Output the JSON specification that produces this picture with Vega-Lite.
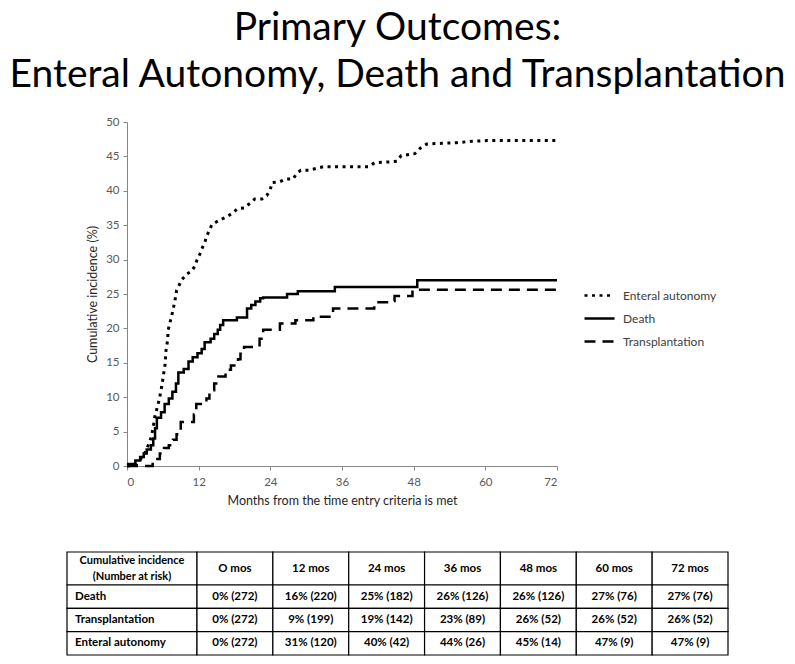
{
  "$schema": "https://vega.github.io/schema/vega-lite/v6.json",
  "width": 430,
  "height": 344,
  "autosize": {"type": "none"},
  "padding": {"left": 127, "top": 122, "right": 238, "bottom": 198},
  "background": "white",
  "config": {
    "font": "Lato",
    "view": {"stroke": null},
    "axis": {
      "grid": false,
      "domainColor": "#868686",
      "tickColor": "#868686",
      "tickSize": 4,
      "labelColor": "#595959",
      "labelFontSize": 11.5,
      "titleColor": "#262626",
      "titleFontSize": 12.5,
      "titleFontWeight": "normal"
    }
  },
  "title": {
    "text": ["Primary Outcomes:", "Enteral Autonomy, Death and Transplantation"],
    "fontSize": 39,
    "lineHeight": 47,
    "fontWeight": "normal",
    "color": "black",
    "anchor": "middle",
    "frame": "bounds",
    "offset": 21
  },
  "datasets": {
    "curves": [
      {"series": "Death", "t": 0, "v": 0},
      {"series": "Death", "t": 0.2, "v": 0.3},
      {"series": "Death", "t": 1.4, "v": 0.8},
      {"series": "Death", "t": 2.2, "v": 1.3},
      {"series": "Death", "t": 2.8, "v": 1.8},
      {"series": "Death", "t": 3.3, "v": 2.4},
      {"series": "Death", "t": 4.0, "v": 3.0},
      {"series": "Death", "t": 4.4, "v": 4.0},
      {"series": "Death", "t": 4.7, "v": 5.5},
      {"series": "Death", "t": 5.0, "v": 7.0},
      {"series": "Death", "t": 5.7, "v": 7.8},
      {"series": "Death", "t": 6.3, "v": 9.0},
      {"series": "Death", "t": 7.0, "v": 9.8},
      {"series": "Death", "t": 7.6, "v": 10.8},
      {"series": "Death", "t": 8.2, "v": 12.0},
      {"series": "Death", "t": 8.6, "v": 13.6},
      {"series": "Death", "t": 9.5, "v": 14.1},
      {"series": "Death", "t": 10.3, "v": 15.2},
      {"series": "Death", "t": 11.0, "v": 15.8},
      {"series": "Death", "t": 11.8, "v": 16.4},
      {"series": "Death", "t": 12.5, "v": 17.0},
      {"series": "Death", "t": 13.0, "v": 18.0},
      {"series": "Death", "t": 14.0, "v": 18.5},
      {"series": "Death", "t": 14.6, "v": 19.2},
      {"series": "Death", "t": 15.2, "v": 19.8},
      {"series": "Death", "t": 15.6, "v": 20.5},
      {"series": "Death", "t": 16.1, "v": 21.2},
      {"series": "Death", "t": 18.4, "v": 21.6},
      {"series": "Death", "t": 20.1, "v": 22.9},
      {"series": "Death", "t": 20.8, "v": 23.4},
      {"series": "Death", "t": 21.5, "v": 23.9},
      {"series": "Death", "t": 22.3, "v": 24.4},
      {"series": "Death", "t": 22.8, "v": 24.5},
      {"series": "Death", "t": 26.8, "v": 25.0},
      {"series": "Death", "t": 28.6, "v": 25.4},
      {"series": "Death", "t": 34.8, "v": 26.0},
      {"series": "Death", "t": 48.6, "v": 27.0},
      {"series": "Death", "t": 72, "v": 27.0},
      {"series": "Transplantation", "t": 0, "v": 0},
      {"series": "Transplantation", "t": 4.3, "v": 0.5},
      {"series": "Transplantation", "t": 4.8, "v": 1.0},
      {"series": "Transplantation", "t": 5.5, "v": 1.8},
      {"series": "Transplantation", "t": 6.2, "v": 2.6},
      {"series": "Transplantation", "t": 7.0, "v": 3.0},
      {"series": "Transplantation", "t": 7.7, "v": 3.8},
      {"series": "Transplantation", "t": 8.3, "v": 4.6},
      {"series": "Transplantation", "t": 9.0, "v": 6.4},
      {"series": "Transplantation", "t": 11.2, "v": 7.5},
      {"series": "Transplantation", "t": 11.6, "v": 9.0},
      {"series": "Transplantation", "t": 13.3, "v": 9.8},
      {"series": "Transplantation", "t": 13.8, "v": 11.0},
      {"series": "Transplantation", "t": 14.6, "v": 12.0},
      {"series": "Transplantation", "t": 15.3, "v": 13.0},
      {"series": "Transplantation", "t": 16.5, "v": 14.0},
      {"series": "Transplantation", "t": 17.4, "v": 14.6},
      {"series": "Transplantation", "t": 18.6, "v": 15.5},
      {"series": "Transplantation", "t": 19.0, "v": 16.3},
      {"series": "Transplantation", "t": 19.6, "v": 17.3},
      {"series": "Transplantation", "t": 22.2, "v": 18.5},
      {"series": "Transplantation", "t": 22.8, "v": 19.8},
      {"series": "Transplantation", "t": 25.6, "v": 20.7},
      {"series": "Transplantation", "t": 28.2, "v": 21.2},
      {"series": "Transplantation", "t": 31.2, "v": 21.7},
      {"series": "Transplantation", "t": 34.5, "v": 22.9},
      {"series": "Transplantation", "t": 41.4, "v": 23.8},
      {"series": "Transplantation", "t": 44.2, "v": 24.0},
      {"series": "Transplantation", "t": 44.8, "v": 24.7},
      {"series": "Transplantation", "t": 47.8, "v": 25.6},
      {"series": "Transplantation", "t": 72, "v": 25.6},
      {"series": "Enteral autonomy", "t": 0, "v": 0},
      {"series": "Enteral autonomy", "t": 1.5, "v": 0.2},
      {"series": "Enteral autonomy", "t": 2.2, "v": 0.9},
      {"series": "Enteral autonomy", "t": 3.0, "v": 1.9},
      {"series": "Enteral autonomy", "t": 3.6, "v": 3.1},
      {"series": "Enteral autonomy", "t": 4.1, "v": 4.3},
      {"series": "Enteral autonomy", "t": 4.4, "v": 5.7},
      {"series": "Enteral autonomy", "t": 4.7, "v": 7.4},
      {"series": "Enteral autonomy", "t": 5.1, "v": 8.6},
      {"series": "Enteral autonomy", "t": 5.5, "v": 10.1},
      {"series": "Enteral autonomy", "t": 5.8, "v": 11.5},
      {"series": "Enteral autonomy", "t": 6.1, "v": 13.2},
      {"series": "Enteral autonomy", "t": 6.4, "v": 14.9},
      {"series": "Enteral autonomy", "t": 6.5, "v": 16.6},
      {"series": "Enteral autonomy", "t": 6.8, "v": 18.3},
      {"series": "Enteral autonomy", "t": 6.9, "v": 19.8},
      {"series": "Enteral autonomy", "t": 7.5, "v": 21.9},
      {"series": "Enteral autonomy", "t": 8.0, "v": 23.9},
      {"series": "Enteral autonomy", "t": 8.3, "v": 25.5},
      {"series": "Enteral autonomy", "t": 9.2, "v": 27.1},
      {"series": "Enteral autonomy", "t": 10.0, "v": 27.9},
      {"series": "Enteral autonomy", "t": 10.8, "v": 28.3},
      {"series": "Enteral autonomy", "t": 11.4, "v": 29.1},
      {"series": "Enteral autonomy", "t": 11.7, "v": 29.9},
      {"series": "Enteral autonomy", "t": 12.2, "v": 30.8},
      {"series": "Enteral autonomy", "t": 12.7, "v": 31.9},
      {"series": "Enteral autonomy", "t": 13.1, "v": 32.7},
      {"series": "Enteral autonomy", "t": 13.3, "v": 33.4},
      {"series": "Enteral autonomy", "t": 13.8, "v": 34.2},
      {"series": "Enteral autonomy", "t": 14.2, "v": 35.1},
      {"series": "Enteral autonomy", "t": 15.0, "v": 35.5},
      {"series": "Enteral autonomy", "t": 15.9, "v": 35.9},
      {"series": "Enteral autonomy", "t": 16.9, "v": 36.3},
      {"series": "Enteral autonomy", "t": 17.7, "v": 36.8},
      {"series": "Enteral autonomy", "t": 18.5, "v": 37.4},
      {"series": "Enteral autonomy", "t": 19.6, "v": 37.5},
      {"series": "Enteral autonomy", "t": 20.6, "v": 38.2},
      {"series": "Enteral autonomy", "t": 21.4, "v": 38.8},
      {"series": "Enteral autonomy", "t": 22.6, "v": 38.8},
      {"series": "Enteral autonomy", "t": 23.4, "v": 39.3},
      {"series": "Enteral autonomy", "t": 24.0, "v": 40.2},
      {"series": "Enteral autonomy", "t": 24.3, "v": 41.2},
      {"series": "Enteral autonomy", "t": 25.5, "v": 41.3},
      {"series": "Enteral autonomy", "t": 26.6, "v": 41.7},
      {"series": "Enteral autonomy", "t": 27.8, "v": 41.7},
      {"series": "Enteral autonomy", "t": 28.4, "v": 42.5},
      {"series": "Enteral autonomy", "t": 29.1, "v": 43.0},
      {"series": "Enteral autonomy", "t": 30.4, "v": 43.0},
      {"series": "Enteral autonomy", "t": 32.9, "v": 43.5},
      {"series": "Enteral autonomy", "t": 40.4, "v": 43.5},
      {"series": "Enteral autonomy", "t": 41.5, "v": 44.1},
      {"series": "Enteral autonomy", "t": 44.0, "v": 44.2},
      {"series": "Enteral autonomy", "t": 45.2, "v": 44.3},
      {"series": "Enteral autonomy", "t": 45.9, "v": 45.1},
      {"series": "Enteral autonomy", "t": 48.2, "v": 45.4},
      {"series": "Enteral autonomy", "t": 49.1, "v": 46.2},
      {"series": "Enteral autonomy", "t": 50.2, "v": 46.8},
      {"series": "Enteral autonomy", "t": 52.7, "v": 46.9},
      {"series": "Enteral autonomy", "t": 55.2, "v": 47.0},
      {"series": "Enteral autonomy", "t": 57.8, "v": 47.2},
      {"series": "Enteral autonomy", "t": 60.3, "v": 47.3},
      {"series": "Enteral autonomy", "t": 72, "v": 47.3}
    ],
    "headerLabel": [
      {"r": "header", "c": "label", "txt": ["Cumulative incidence", "(Number at risk)"]}
    ],
    "headerCols": [
      {"r": "header", "c": "O mos"},
      {"r": "header", "c": "12 mos"},
      {"r": "header", "c": "24 mos"},
      {"r": "header", "c": "36 mos"},
      {"r": "header", "c": "48 mos"},
      {"r": "header", "c": "60 mos"},
      {"r": "header", "c": "72 mos"}
    ],
    "rowLabels": [
      {"r": "Death", "c": "label"},
      {"r": "Transplantation", "c": "label"},
      {"r": "Enteral autonomy", "c": "label"}
    ],
    "cells": [
      {"r": "Death", "c": "O mos", "txt": "0% (272)"},
      {"r": "Death", "c": "12 mos", "txt": "16% (220)"},
      {"r": "Death", "c": "24 mos", "txt": "25% (182)"},
      {"r": "Death", "c": "36 mos", "txt": "26% (126)"},
      {"r": "Death", "c": "48 mos", "txt": "26% (126)"},
      {"r": "Death", "c": "60 mos", "txt": "27% (76)"},
      {"r": "Death", "c": "72 mos", "txt": "27% (76)"},
      {"r": "Transplantation", "c": "O mos", "txt": "0% (272)"},
      {"r": "Transplantation", "c": "12 mos", "txt": "9% (199)"},
      {"r": "Transplantation", "c": "24 mos", "txt": "19% (142)"},
      {"r": "Transplantation", "c": "36 mos", "txt": "23% (89)"},
      {"r": "Transplantation", "c": "48 mos", "txt": "26% (52)"},
      {"r": "Transplantation", "c": "60 mos", "txt": "26% (52)"},
      {"r": "Transplantation", "c": "72 mos", "txt": "26% (52)"},
      {"r": "Enteral autonomy", "c": "O mos", "txt": "0% (272)"},
      {"r": "Enteral autonomy", "c": "12 mos", "txt": "31% (120)"},
      {"r": "Enteral autonomy", "c": "24 mos", "txt": "40% (42)"},
      {"r": "Enteral autonomy", "c": "36 mos", "txt": "44% (26)"},
      {"r": "Enteral autonomy", "c": "48 mos", "txt": "45% (14)"},
      {"r": "Enteral autonomy", "c": "60 mos", "txt": "47% (9)"},
      {"r": "Enteral autonomy", "c": "72 mos", "txt": "47% (9)"}
    ]
  },
  "layer": [
    {
      "data": {"name": "curves"},
      "encoding": {
        "x": {
          "field": "t",
          "type": "quantitative",
          "scale": {"domain": [0, 72], "nice": false},
          "axis": {
            "values": [0, 12, 24, 36, 48, 60, 72],
            "title": "Months from the time entry criteria is met",
            "labelPadding": 6,
            "titlePadding": 7
          }
        },
        "y": {
          "field": "v",
          "type": "quantitative",
          "scale": {"domain": [0, 50], "nice": false},
          "axis": {
            "values": [0, 5, 10, 15, 20, 25, 30, 35, 40, 45, 50],
            "title": "Cumulative incidence (%)",
            "labelPadding": 4,
            "titlePadding": 6
          }
        },
        "strokeDash": {
          "field": "series",
          "type": "nominal",
          "scale": {
            "domain": ["Enteral autonomy", "Death", "Transplantation"],
            "range": [[3, 4.5], [1, 0], [11, 7]]
          },
          "legend": {
            "title": null,
            "orient": "none",
            "legendX": 456,
            "legendY": 157,
            "padding": 0,
            "symbolType": "stroke",
            "symbolSize": 900,
            "symbolStrokeWidth": 2.6,
            "symbolStrokeColor": "black",
            "labelFontSize": 12,
            "labelColor": "#404040",
            "labelOffset": 7,
            "rowPadding": 0
          }
        }
      },
      "layer": [
        {
          "transform": [{"filter": "datum.series !== 'Enteral autonomy'"}],
          "mark": {"type": "line", "interpolate": "step-after", "color": "black", "strokeWidth": 2.5}
        },
        {
          "transform": [{"filter": "datum.series === 'Enteral autonomy'"}],
          "mark": {"type": "line", "interpolate": "linear", "color": "black", "strokeWidth": 3}
        }
      ]
    },
    {
      "data": {"name": "headerLabel"},
      "encoding": {
        "x": {"field": "c", "type": "nominal", "scale": {"domain": ["label"], "range": [-60, 70], "padding": 0}, "axis": null},
        "y": {"field": "r", "type": "nominal", "scale": {"domain": ["header"], "range": [430, 463], "padding": 0}, "axis": null}
      },
      "layer": [
        {"mark": {"type": "rect", "fill": "white", "stroke": "black", "strokeWidth": 1.2}},
        {"mark": {"type": "text", "fontWeight": "bold", "fontSize": 11, "lineHeight": 16.5, "baseline": "middle", "dy": -8, "color": "black"}, "encoding": {"text": {"field": "txt"}}}
      ]
    },
    {
      "data": {"name": "headerCols"},
      "encoding": {
        "x": {"field": "c", "type": "nominal", "sort": null, "scale": {"domain": ["O mos", "12 mos", "24 mos", "36 mos", "48 mos", "60 mos", "72 mos"], "range": [70, 601], "padding": 0}, "axis": null},
        "y": {"field": "r", "type": "nominal", "scale": {"domain": ["header"], "range": [430, 463], "padding": 0}, "axis": null}
      },
      "layer": [
        {"mark": {"type": "rect", "fill": "white", "stroke": "black", "strokeWidth": 1.2}},
        {"mark": {"type": "text", "fontWeight": "bold", "fontSize": 11.5, "baseline": "middle", "color": "black"}, "encoding": {"text": {"field": "c"}}}
      ]
    },
    {
      "data": {"name": "rowLabels"},
      "encoding": {
        "x": {"field": "c", "type": "nominal", "scale": {"domain": ["label"], "range": [-60, 70], "padding": 0}, "axis": null},
        "y": {"field": "r", "type": "nominal", "sort": null, "scale": {"domain": ["Death", "Transplantation", "Enteral autonomy"], "range": [463, 533], "padding": 0}, "axis": null}
      },
      "layer": [
        {"mark": {"type": "rect", "fill": "white", "stroke": "black", "strokeWidth": 1.2}},
        {
          "mark": {"type": "text", "fontWeight": "bold", "fontSize": 11.5, "baseline": "middle", "align": "left", "dx": 8, "color": "black"},
          "encoding": {
            "x": {"field": "c", "type": "nominal", "bandPosition": 0, "scale": {"domain": ["label"], "range": [-60, 70], "padding": 0}, "axis": null},
            "text": {"field": "r"}
          }
        }
      ]
    },
    {
      "data": {"name": "cells"},
      "encoding": {
        "x": {"field": "c", "type": "nominal", "sort": null, "scale": {"domain": ["O mos", "12 mos", "24 mos", "36 mos", "48 mos", "60 mos", "72 mos"], "range": [70, 601], "padding": 0}, "axis": null},
        "y": {"field": "r", "type": "nominal", "sort": null, "scale": {"domain": ["Death", "Transplantation", "Enteral autonomy"], "range": [463, 533], "padding": 0}, "axis": null}
      },
      "layer": [
        {"mark": {"type": "rect", "fill": "white", "stroke": "black", "strokeWidth": 1.2}},
        {"mark": {"type": "text", "fontWeight": "bold", "fontSize": 11.5, "baseline": "middle", "color": "black"}, "encoding": {"text": {"field": "txt"}}}
      ]
    }
  ],
  "resolve": {"scale": {"x": "independent", "y": "independent"}}
}
